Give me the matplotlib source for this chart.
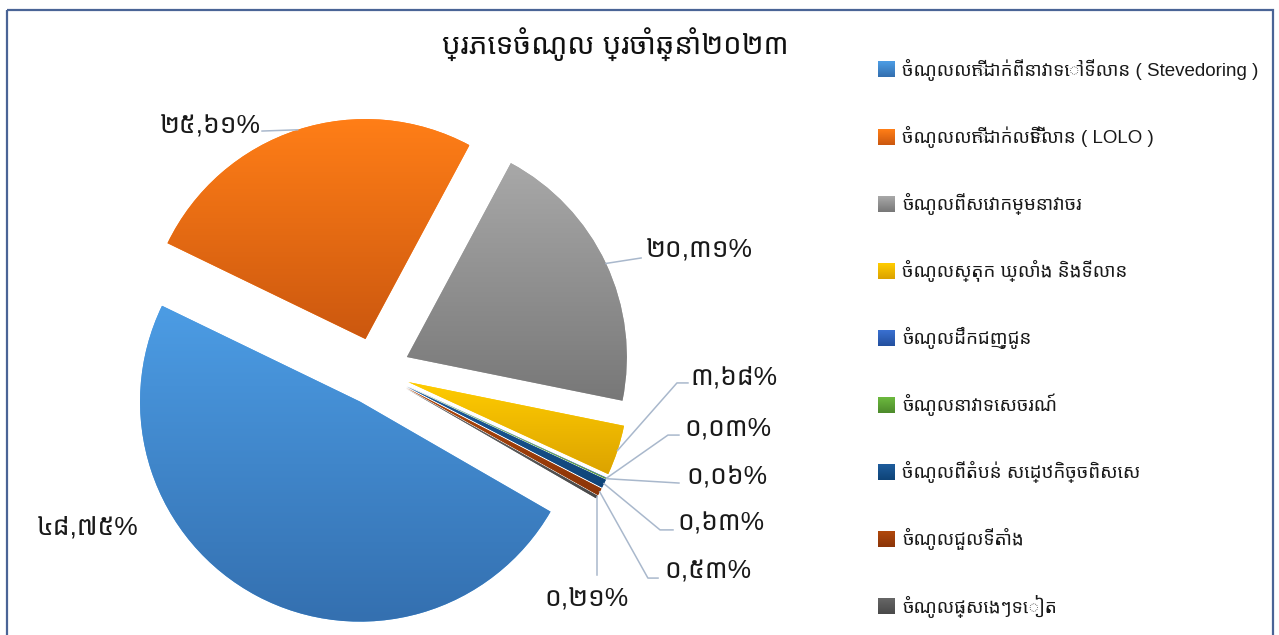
import matplotlib
matplotlib.use('Agg')
import matplotlib.pyplot as plt
import numpy as np
from matplotlib import font_manager
from matplotlib.colors import to_rgb
from matplotlib.ft2font import FT2Font
from matplotlib.patches import Rectangle

# chart data
title = 'ប្រភេទចំណូល ប្រចាំឆ្នាំ២០២៣'
categories = [
    'ចំណូលលើកដាក់ពីនាវាទៅទីលាន ( Stevedoring )',
    'ចំណូលលើកដាក់លើទីលាន ( LOLO )',
    'ចំណូលពីសេវាកម្មនាវាចរ',
    'ចំណូលស្តុក ឃ្លាំង និងទីលាន',
    'ចំណូលដឹកជញ្ជូន',
    'ចំណូលនាវាទេសចរណ៍',
    'ចំណូលពីតំបន់ សេដ្ឋកិច្ចពិសេស',
    'ចំណូលជួលទីតាំង',
    'ចំណូលផ្សេងៗទៀត',
]
shares = [48.75, 25.61, 20.31, 3.68, 0.03, 0.06, 0.63, 0.53, 0.21]

# gradient fill of each slice (top colour, bottom colour)
slice_colors = [
    ('#4C9CE4', '#3470B0'),
    ('#FF7E17', '#CC580F'),
    ('#A8A8A8', '#787878'),
    ('#FFCC00', '#DCA300'),
    ('#3A70D0', '#23509F'),
    ('#6CB83E', '#4E8C2C'),
    ('#1E5C9C', '#0F4478'),
    ('#B0480C', '#8C3508'),
    ('#666666', '#4A4A4A'),
]

# label placement in pie data units (radius = 1)
label_pos = [(-1.31, -0.71), (-0.525, 1.115), (1.225, 0.552), (1.43, -0.025),
             (1.40, -0.257), (1.41, -0.484), (1.37, -0.689), (1.31, -0.911),
             (0.955, -1.035)]
label_ha = ['center', 'right', 'left', 'left', 'left', 'left', 'left', 'left', 'center']
leader_pts = [
    None,
    [(-0.518, 1.093)],
    [(1.205, 0.516)],
    [(1.368, -0.052), (1.418, -0.052)],
    [(1.327, -0.289), (1.377, -0.289)],
    [(1.377, -0.507)],
    [(1.291, -0.720), (1.350, -0.720)],
    [(1.236, -0.939), (1.282, -0.939)],
    [None, (None, -0.925)],
]


def khmer_font():
    # pick an installed font that has Khmer glyphs
    found = []
    for f in font_manager.fontManager.ttflist:
        if f.name in found:
            continue
        try:
            if 0x1780 in FT2Font(f.fname).get_charmap():
                found.append(f.name)
        except Exception:
            pass
    for name in ['Noto Sans Khmer', 'Battambang', 'Hanuman']:
        if name in found:
            return name
    return found[0] if found else None


kh = khmer_font()
fam = ['Liberation Sans', 'DejaVu Sans'] + ([kh] if kh else [])
plt.rcParams['font.family'] = fam

to_kh = str.maketrans('0123456789.', '០១២៣៤៥៦៧៨៩,')
share_labels = [f'{v:.2f}'.translate(to_kh) + '%' for v in shares]

W, H = 1279, 635
fig = plt.figure(figsize=(W / 100, H / 100), dpi=100)

# pie: centre at (376, 371.5) px, radius 220 px
cx, cy, R, half = 376, 371.5, 220, 300
ax = fig.add_axes([(cx - half) / W, (H - cy - half) / H, 2 * half / W, 2 * half / H])
wedges, _ = ax.pie(shares, colors=[c[0] for c in slice_colors], startangle=-30,
                   counterclock=False, explode=[0.155] * len(shares),
                   wedgeprops=dict(linewidth=0))

for w, (top, bot) in zip(wedges, slice_colors):
    x0, y0, x1, y1 = w.get_path().get_extents().extents
    grad = np.linspace(to_rgb(top), to_rgb(bot), 64)[:, None, :]
    im = ax.imshow(grad, extent=(x0, x1, y0, y1), origin='upper', aspect='auto',
                   interpolation='bilinear', zorder=w.get_zorder())
    im.set_clip_path(w)

lim = half / R
ax.set_xlim(-lim, lim)
ax.set_ylim(-lim, lim)
ax.axis('off')

# data labels with leader lines
line_color = '#A9B8CC'
for w, lbl, pos, ha, pts in zip(wedges, share_labels, label_pos, label_ha, leader_pts):
    if pts is not None:
        mid = np.deg2rad((w.theta1 + w.theta2) / 2)
        ax0 = w.center[0] + w.r * np.cos(mid)
        ay0 = w.center[1] + w.r * np.sin(mid)
        xs, ys = [ax0], [ay0]
        for p in pts:
            if p is None:
                continue
            xs.append(ax0 if p[0] is None else p[0])
            ys.append(p[1])
        ax.plot(xs, ys, color=line_color, lw=1.1, clip_on=False, zorder=3)
    ax.text(pos[0], pos[1], lbl, ha=ha, va='center', fontsize=19,
            color='#1a1a1a', clip_on=False, zorder=4)

# overlay in pixel coordinates for title, legend and frame
lay = fig.add_axes([0, 0, 1, 1], zorder=-1)
lay.set_xlim(0, W)
lay.set_ylim(H, 0)
lay.axis('off')

lay.add_patch(Rectangle((7, 10), 1266, 640, fill=False, edgecolor='#4A6496', lw=1.6))
lay.text(615, 44, title, ha='center', va='center', fontsize=21, fontweight='bold',
         color='#111111')

for i, (cat, (top, bot)) in enumerate(zip(categories, slice_colors)):
    y = 69.5 + 67.1 * i
    grad = np.linspace(to_rgb(top), to_rgb(bot), 16)[:, None, :]
    lay.imshow(grad, extent=(878, 895, y + 8, y - 8), origin='upper', aspect='auto',
               interpolation='bilinear')
    lay.text(902, y, cat, ha='left', va='center', fontsize=13.5, color='#1a1a1a')

lay.set_xlim(0, W)
lay.set_ylim(H, 0)

fig.savefig('out.png', dpi=100)
